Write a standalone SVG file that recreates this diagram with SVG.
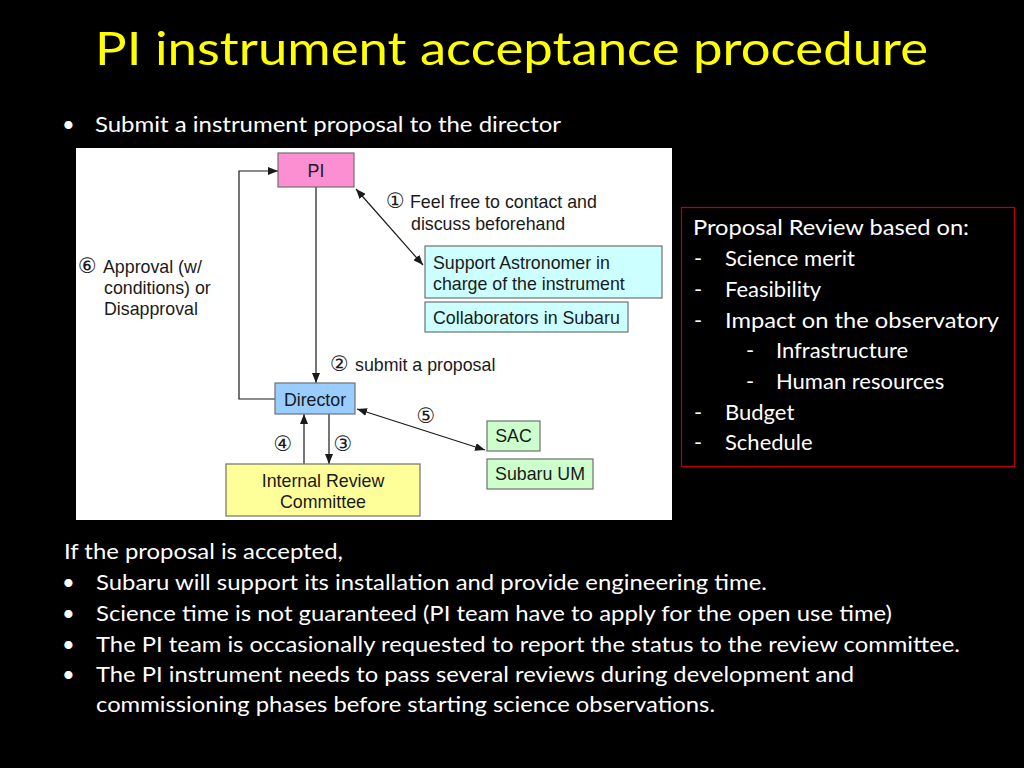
<svg xmlns="http://www.w3.org/2000/svg" width="1024" height="768" viewBox="0 0 1024 768">
<defs>
<style>
.title{font-family:Lato,"Open Sans",sans-serif;font-size:47px;fill:#FFFF00}
.body{font-family:Lato,"Open Sans",sans-serif;font-size:22px;fill:#FFFFFF}
.dg{font-family:"Liberation Sans","DejaVu Sans",Arial,sans-serif;font-size:17.8px;fill:#1a1a1a}
.cn{font-family:"DejaVu Sans",sans-serif;font-size:21px}
.box{stroke:#707070;stroke-width:1.2}
.conn{stroke:#1a1a1a;stroke-width:1.2;fill:none}
</style>
<marker id="ah" viewBox="0 0 10 8" refX="10" refY="4" markerWidth="10" markerHeight="8" markerUnits="userSpaceOnUse" orient="auto-start-reverse">
<path d="M0,0 L10,4 L0,8 z" fill="#1a1a1a"/>
</marker>
</defs>
<rect x="0" y="0" width="1024" height="768" fill="#000000"/>
<text class="title" x="95" y="65" textLength="833" lengthAdjust="spacingAndGlyphs">PI instrument acceptance procedure</text>
<text class="body" x="62" y="132">•</text>
<text class="body" x="95" y="132" textLength="466" lengthAdjust="spacingAndGlyphs">Submit a instrument proposal to the director</text>

<rect x="76" y="148" width="596" height="372" fill="#FFFFFF"/>

<g id="connectors">
<line class="conn" x1="316" y1="187" x2="316" y2="383" marker-end="url(#ah)"/>
<path class="conn" d="M275,399 H239 V171 H278" marker-end="url(#ah)"/>
<line class="conn" x1="356" y1="189" x2="423" y2="265" marker-start="url(#ah)" marker-end="url(#ah)"/>
<line class="conn" x1="329" y1="414" x2="329" y2="464" marker-end="url(#ah)"/>
<line class="conn" x1="304" y1="464" x2="304" y2="414" marker-end="url(#ah)"/>
<line class="conn" x1="357" y1="409" x2="485" y2="450" marker-start="url(#ah)" marker-end="url(#ah)"/>
</g>

<g id="labels">
<text class="dg" x="386" y="208"><tspan class="cn">①</tspan><tspan x="410">Feel free to contact and</tspan></text>
<text class="dg" x="411" y="230">discuss beforehand</text>
<text class="dg" x="78" y="273"><tspan class="cn">⑥</tspan><tspan x="103">Approval (w/</tspan></text>
<text class="dg" x="104" y="294">conditions) or</text>
<text class="dg" x="104" y="315">Disapproval</text>
<text class="dg" x="330" y="371"><tspan class="cn">②</tspan><tspan x="355">submit a proposal</tspan></text>
<text class="dg cn" x="283" y="451" text-anchor="middle">④</text>
<text class="dg cn" x="343" y="451" text-anchor="middle">③</text>
<text class="dg cn" x="426" y="423" text-anchor="middle">⑤</text>
</g>

<g id="node-pi">
<rect class="box" x="278" y="153" width="76" height="34" fill="#FB8FD2"/>
<text class="dg" x="316" y="177" text-anchor="middle">PI</text>
</g>
<g id="node-support">
<rect class="box" x="425" y="246" width="237" height="52" fill="#CCFFFF"/>
<text class="dg" x="433" y="269">Support Astronomer in</text>
<text class="dg" x="433" y="290">charge of the instrument</text>
</g>
<g id="node-collab">
<rect class="box" x="425" y="302" width="203" height="30" fill="#CCFFFF"/>
<text class="dg" x="433" y="324">Collaborators in Subaru</text>
</g>
<g id="node-director">
<rect class="box" x="275" y="383" width="80" height="31" fill="#99CCFF"/>
<text class="dg" x="315" y="406" text-anchor="middle">Director</text>
</g>
<g id="node-irc">
<rect class="box" x="226" y="464" width="194" height="52" fill="#FFFF99"/>
<text class="dg" x="323" y="487" text-anchor="middle">Internal Review</text>
<text class="dg" x="323" y="508" text-anchor="middle">Committee</text>
</g>
<g id="node-sac">
<rect class="box" x="487" y="421" width="53" height="30" fill="#CCFFCC"/>
<text class="dg" x="513.5" y="442" text-anchor="middle">SAC</text>
</g>
<g id="node-um">
<rect class="box" x="487" y="459" width="106" height="30" fill="#CCFFCC"/>
<text class="dg" x="540" y="480" text-anchor="middle">Subaru UM</text>
</g>

<g id="review-box">
<rect x="681.5" y="207.5" width="333" height="259" fill="none" stroke="#C00000" stroke-width="1.2"/>
<text class="body" x="693" y="235" textLength="276" lengthAdjust="spacingAndGlyphs">Proposal Review based on:</text>
<text class="body" x="694" y="266">-</text>
<text class="body" x="725" y="266">Science merit</text>
<text class="body" x="694" y="297">-</text>
<text class="body" x="725" y="297">Feasibility</text>
<text class="body" x="694" y="328">-</text>
<text class="body" x="725" y="328" textLength="274" lengthAdjust="spacingAndGlyphs">Impact on the observatory</text>
<text class="body" x="746" y="358">-</text>
<text class="body" x="776" y="358">Infrastructure</text>
<text class="body" x="746" y="389">-</text>
<text class="body" x="776" y="389">Human resources</text>
<text class="body" x="694" y="420">-</text>
<text class="body" x="725" y="420">Budget</text>
<text class="body" x="694" y="450">-</text>
<text class="body" x="725" y="450">Schedule</text>
</g>

<g id="bottom-text">
<text class="body" x="64" y="559" textLength="279" lengthAdjust="spacingAndGlyphs">If the proposal is accepted,</text>
<text class="body" x="62" y="590">•</text>
<text class="body" x="96" y="590" textLength="671" lengthAdjust="spacingAndGlyphs">Subaru will support its installation and provide engineering time.</text>
<text class="body" x="62" y="621">•</text>
<text class="body" x="96" y="621" textLength="796" lengthAdjust="spacingAndGlyphs">Science time is not guaranteed (PI team have to apply for the open use time)</text>
<text class="body" x="62" y="652">•</text>
<text class="body" x="96" y="652" textLength="864" lengthAdjust="spacingAndGlyphs">The PI team is occasionally requested to report the status to the review committee.</text>
<text class="body" x="62" y="682">•</text>
<text class="body" x="96" y="682" textLength="758" lengthAdjust="spacingAndGlyphs">The PI instrument needs to pass several reviews during development and</text>
<text class="body" x="96" y="712" textLength="619" lengthAdjust="spacingAndGlyphs">commissioning phases before starting science observations.</text>
</g>
</svg>
